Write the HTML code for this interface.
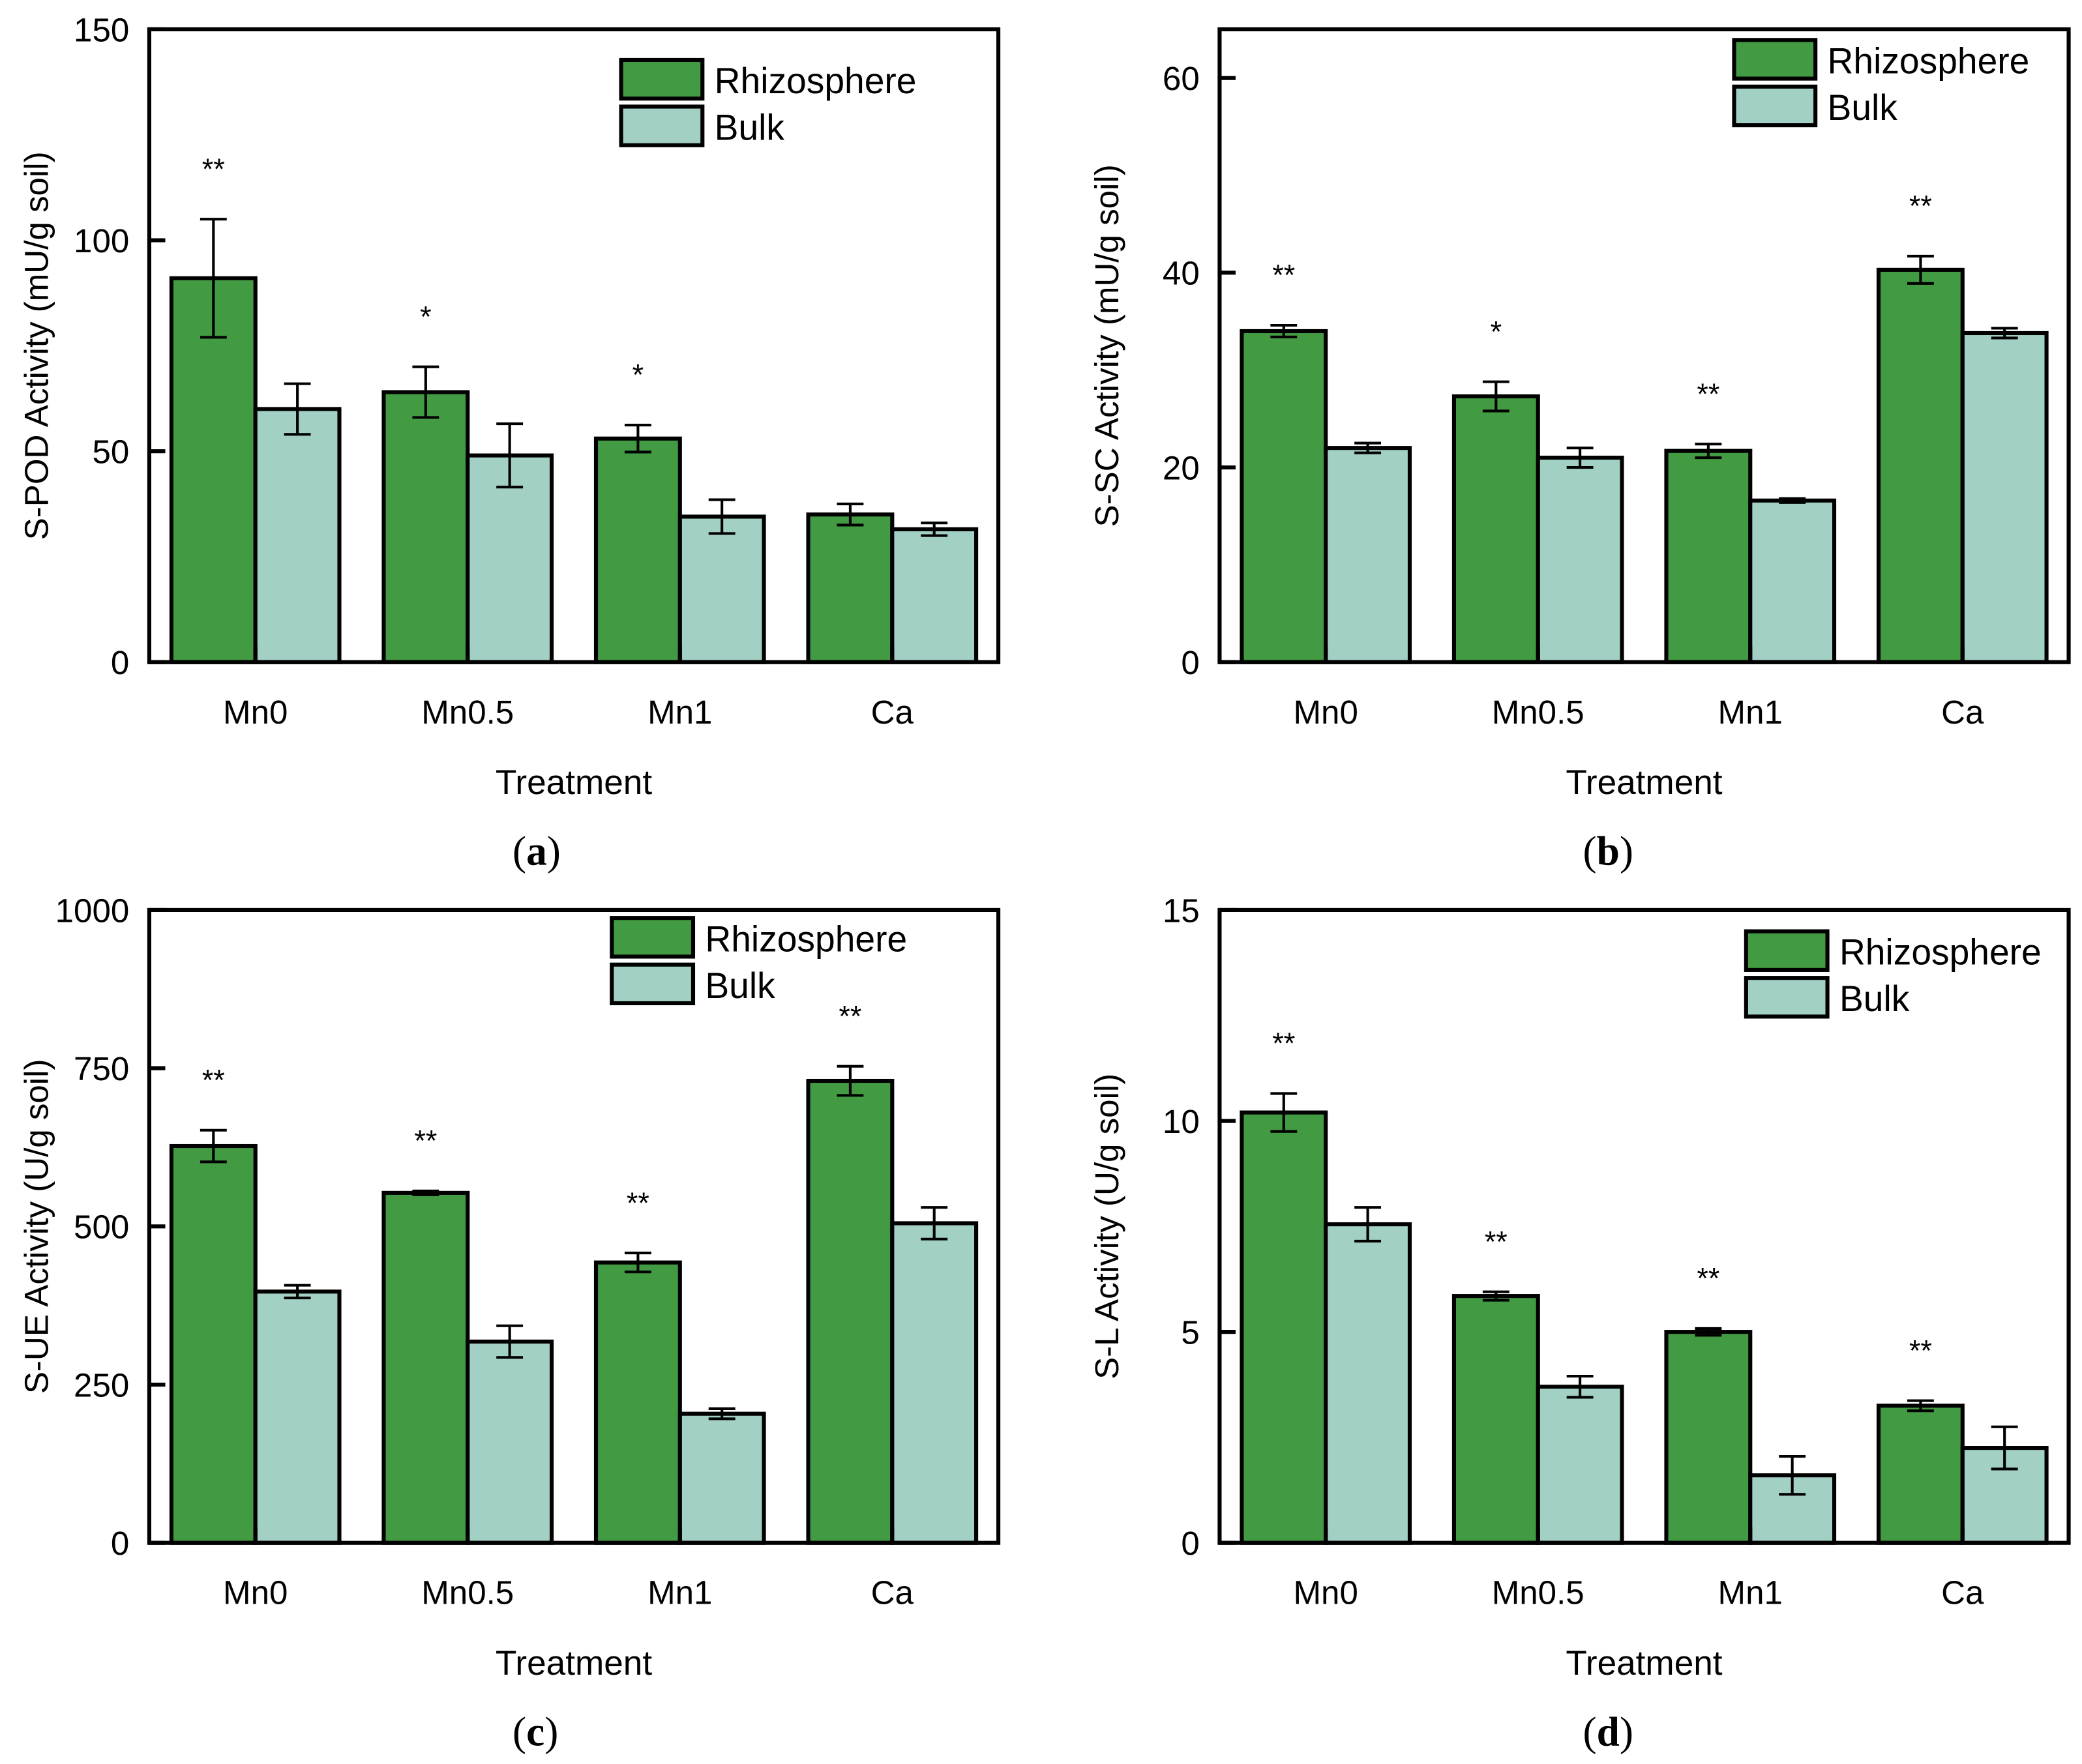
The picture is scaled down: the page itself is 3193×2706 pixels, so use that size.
<!DOCTYPE html>
<html><head><meta charset="utf-8"><style>
html,body{margin:0;padding:0;background:#fff}
svg{display:block}
text{font-family:"Liberation Sans",sans-serif;fill:#000}
</style></head><body>
<svg id="fig" width="3193" height="2706" viewBox="0 0 1562 1324" preserveAspectRatio="none" xmlns="http://www.w3.org/2000/svg"></svg>
<script>
const categories=["Mn0","Mn0.5","Mn1","Ca"];
const seriesNames=["Rhizosphere","Bulk"];
const aRhizo=[91,64,53,35], aRhizoErr=[14,6,3.2,2.5], aBulk=[60,49,34.5,31.5], aBulkErr=[6,7.5,4,1.5], aStars=["**","*","*",""];
const aTicks=[0,50,100,150];
const bRhizo=[34,27.3,21.7,40.3], bRhizoErr=[0.6,1.5,0.7,1.4], bBulk=[22,21,16.6,33.8], bBulkErr=[0.5,1,0.2,0.5], bStars=["**","*","**","**"];
const bTicks=[0,20,40,60];
const cRhizo=[627,553,443,730], cRhizoErr=[25,3,15,23], cBulk=[397,318,204,505], cBulkErr=[10,25,8,25], cStars=["**","**","**","**"];
const cTicks=[0,250,500,750,1000];
const dRhizo=[10.2,5.85,5.0,3.25], dRhizoErr=[0.45,0.1,0.08,0.12], dBulk=[7.55,3.7,1.6,2.25], dBulkErr=[0.4,0.25,0.45,0.5], dStars=["**","**","**","**"];
const dTicks=[0,5,10,15];

const NS="http://www.w3.org/2000/svg";
const svg=document.getElementById('fig');
function mk(tag,attrs,parent,txt){const e=document.createElementNS(NS,tag);for(const k in attrs)e.setAttribute(k,attrs[k]);if(txt!==undefined)e.textContent=txt;(parent||svg).appendChild(e);return e;}

function panel(id,x0,x1,y0,y1,ymax,ticks,R,RE,B,BE,stars,ytitle,label,legX,legY){
  const g=mk('g',{});
  
  
  const ys=v=>y1-(v/ymax)*(y1-y0);
  const step=(x1-x0)/4;
  const xc=i=>x0+step*(i+0.5);
  const bw=63;
  ticks.forEach(t=>{
    const y=ys(t);
    const tk=mk('line',{x1:x0,x2:x0+12,y1:y,y2:y,stroke:'#000','stroke-width':3},g);
    
    
    const tl=mk('text',{x:x0-15,y:y+9,'text-anchor':'end','font-size':25},g,String(t));
    
    
  });
  categories.forEach((c,i)=>{
    const cx=xc(i);
    [[R,RE,'#429b43',cx-bw],[B,BE,'#a3d0c5',cx]].forEach((s,j)=>{
      const v=s[0][i],e=s[1][i];
      const r=mk('rect',{x:s[3],y:ys(v),width:bw,height:y1-ys(v),fill:s[2],stroke:'#000','stroke-width':3},g);
      
      
      const ex=s[3]+bw/2;
      const eb=mk('path',{d:`M${ex},${ys(v+e)}V${ys(v-e)}M${ex-10},${ys(v+e)}H${ex+10}M${ex-10},${ys(v-e)}H${ex+10}`,stroke:'#000','stroke-width':2,fill:'none'},g);
      
      
    });
    const bt=mk('line',{x1:cx,x2:cx,y1:y1,y2:y1-12,stroke:'#000','stroke-width':3},g);
    
    
    const xl=mk('text',{x:cx,y:y1+46,'text-anchor':'middle','font-size':25},g,c);
    
    
    if(stars[i]){
      const top=ys(R[i]+RE[i]);
      const st=mk('text',{x:cx-bw/2,y:top-30,'text-anchor':'middle','font-size':22},g,stars[i]);
      
      
    }
  });
  const fr=mk('rect',{x:x0,y:y0,width:x1-x0,height:y1-y0,fill:'none',stroke:'#000','stroke-width':3},g);
  
  
  const yt=mk('text',{x:0,y:0,'text-anchor':'middle','font-size':25,transform:`translate(${x0-76},${(y0+y1)/2}) rotate(-90)`},g,ytitle);
  
  
  const xt=mk('text',{x:(x0+x1)/2,y:y1+99,'text-anchor':'middle','font-size':26},g,'Treatment');
  
  
  const pl=mk('text',{x:(x0+x1)/2-46,y:y1+152,'font-size':31,style:'font-family:"Liberation Serif",serif'},g);
  
  
  mk('tspan',{},pl,'(');mk('tspan',{'font-weight':'bold'},pl,label);mk('tspan',{},pl,')');
  ['#429b43','#a3d0c5'].forEach((col,j)=>{
    const lb=mk('rect',{x:legX,y:legY+j*35,width:61,height:29,fill:col,stroke:'#000','stroke-width':3},g);
    
    
    const lt=mk('text',{x:legX+70,y:legY+j*35+25,'font-size':27},g,seriesNames[j]);
    
    
  });
}
panel('a',112,749,22,497,150,aTicks,aRhizo,aRhizoErr,aBulk,aBulkErr,aStars,'S-POD Activity  (mU/g soil)','a',466,45);
panel('b',915,1552,22,497,65,bTicks,bRhizo,bRhizoErr,bBulk,bBulkErr,bStars,'S-SC Activity  (mU/g soil)','b',1301,30);
panel('c',112,749,683,1158,1000,cTicks,cRhizo,cRhizoErr,cBulk,cBulkErr,cStars,'S-UE Activity  (U/g soil)','c',459,689);
panel('d',915,1552,683,1158,15,dTicks,dRhizo,dRhizoErr,dBulk,dBulkErr,dStars,'S-L Activity  (U/g soil)','d',1310,699);
</script>
</body></html>
